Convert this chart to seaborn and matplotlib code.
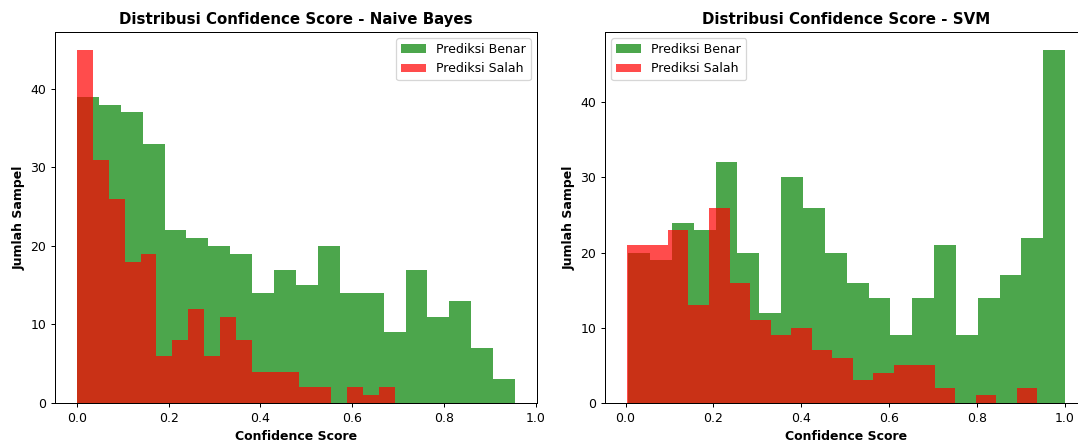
import numpy as np
import pandas as pd
import matplotlib
matplotlib.use("Agg")
import matplotlib.pyplot as plt
import seaborn as sns

# --- Data (bin counts) ---
nb_benar_counts = [39, 38, 37, 33, 22, 21, 20, 19, 14, 17, 15, 20, 14, 14, 9, 17, 11, 13, 7, 3]
nb_benar_range = (0.0, 0.955)
nb_salah_counts = [45, 31, 26, 18, 19, 6, 8, 12, 6, 11, 8, 4, 4, 4, 2, 2, 0, 2, 1, 2]
nb_salah_range = (0.0, 0.693)

svm_benar_counts = [20, 19, 24, 23, 32, 20, 12, 30, 26, 20, 16, 14, 9, 14, 21, 9, 14, 17, 22, 47]
svm_benar_range = (0.006, 1.0)
svm_salah_counts = [21, 21, 23, 13, 26, 16, 11, 9, 10, 7, 6, 3, 4, 5, 5, 2, 0, 1, 0, 2]
svm_salah_range = (0.003, 0.937)

titles = ["Distribusi Confidence Score - Naive Bayes", "Distribusi Confidence Score - SVM"]
labels = ["Prediksi Benar", "Prediksi Salah"]


def hist_from_counts(ax, counts, rng, color, label):
    n = len(counts)
    edges = np.linspace(rng[0], rng[1], n + 1)
    centers = (edges[:-1] + edges[1:]) / 2
    df = pd.DataFrame({"x": centers, "w": counts})
    sns.histplot(data=df, x="x", weights="w", bins=n, binrange=rng, color=color,
                 alpha=0.7, linewidth=0, label=label, ax=ax, stat="count")


W, H, DPI = 1078, 444, 90
fig = plt.figure(figsize=(W / DPI, H / DPI), dpi=DPI)
ax_w = 482 / W
ax_b = (H - 403) / H
ax_h = 371 / H
axes = [fig.add_axes([55 / W, ax_b, ax_w, ax_h]),
        fig.add_axes([605 / W, ax_b, ax_w, ax_h])]

specs = [
    (nb_benar_counts, nb_benar_range, nb_salah_counts, nb_salah_range, "upper right"),
    (svm_benar_counts, svm_benar_range, svm_salah_counts, svm_salah_range, "upper left"),
]

for ax, title, (bc, br, sc, sr, loc) in zip(axes, titles, specs):
    hist_from_counts(ax, bc, br, "green", labels[0])
    hist_from_counts(ax, sc, sr, "red", labels[1])
    ax.set_title(title, fontsize=12, fontweight="bold")
    ax.set_xlabel("Confidence Score", fontsize=10, fontweight="bold")
    ax.set_ylabel("Jumlah Sampel", fontsize=10, fontweight="bold")
    ax.legend(loc=loc)

fig.savefig("out.png", dpi=DPI)
